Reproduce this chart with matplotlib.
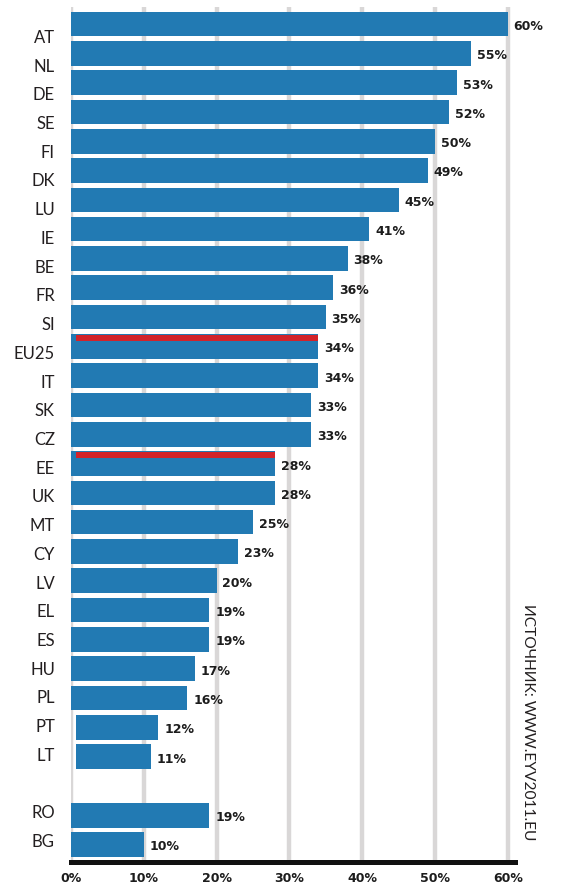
import numpy as np
import matplotlib.pyplot as plt

# данные (доля, %)
countries = ['AT', 'NL', 'DE', 'SE', 'FI', 'DK', 'LU', 'IE', 'BE', 'FR', 'SI',
             'EU25', 'IT', 'SK', 'CZ', 'EE', 'UK', 'MT', 'CY', 'LV', 'EL', 'ES',
             'HU', 'PL', 'PT', 'LT', 'RO', 'BG']
values = [60, 55, 53, 52, 50, 49, 45, 41, 38, 36, 35,
          34, 34, 33, 33, 28, 28, 25, 23, 20, 19, 19,
          17, 16, 12, 11, 19, 10]
highlight = ['EU25', 'EE']      # красная полоса сверху
shifted = ['PT', 'LT']          # столбцы, сдвинутые вправо
xticks = [0, 10, 20, 30, 40, 50, 60]
source = 'ИСТОЧНИК: WWW.EYV2011.EU'

blue = '#227ab3'
red = '#d2232a'
grid_col = '#d9d7d7'

# позиции строк: после LT пропуск одной строки
pos = np.array(list(range(26)) + [27, 28])

fig = plt.figure(figsize=(5.62, 8.87), dpi=100)
ax = fig.add_axes([71/562, (887-862.5)/887, 444/562, 854.5/887])

for x in xticks:
    ax.axvline(x, color=grid_col, lw=3.2, zorder=0)

for c, v, y in zip(countries, values, pos):
    left = 0.75 if c in shifted else 0
    ax.barh(y, v - left, left=left, height=0.84, color=blue, zorder=2)
    if c in highlight:
        ax.barh(y - 0.29, v - 0.75, left=0.75, height=0.2, color=red, zorder=3)
    ax.text(v + 0.8, y + 0.05, '%d%%' % v, fontsize=9, fontweight='bold',
            color='#1c1c1c', va='center', ha='left', zorder=4)
    # подписи стран немного ниже столбцов
    ax.text(-2.2, y * 0.98 + 0.44, c, fontsize=12, color='#231f20',
            family='Lato', ha='right', va='center')

ax.set_xlim(0, 61)
ax.set_ylim(28.58, -0.58)
ax.set_yticks([])
ax.set_xticks(xticks)
ax.set_xticklabels(['%d%%' % x for x in xticks], fontsize=9,
                   fontweight='bold', color='#1c1c1c')
ax.tick_params(axis='x', length=0, pad=7)
for s in ['top', 'right', 'left']:
    ax.spines[s].set_visible(False)
ax.spines['bottom'].set_color('#111111')
ax.spines['bottom'].set_linewidth(3.6)
ax.spines['bottom'].set_zorder(5)

fig.text(528/562, 1 - 722/887, source, rotation=-90, fontsize=11.2,
         family='Lato', color='#231f20', ha='center', va='center')

fig.savefig('out.png', dpi=100)
